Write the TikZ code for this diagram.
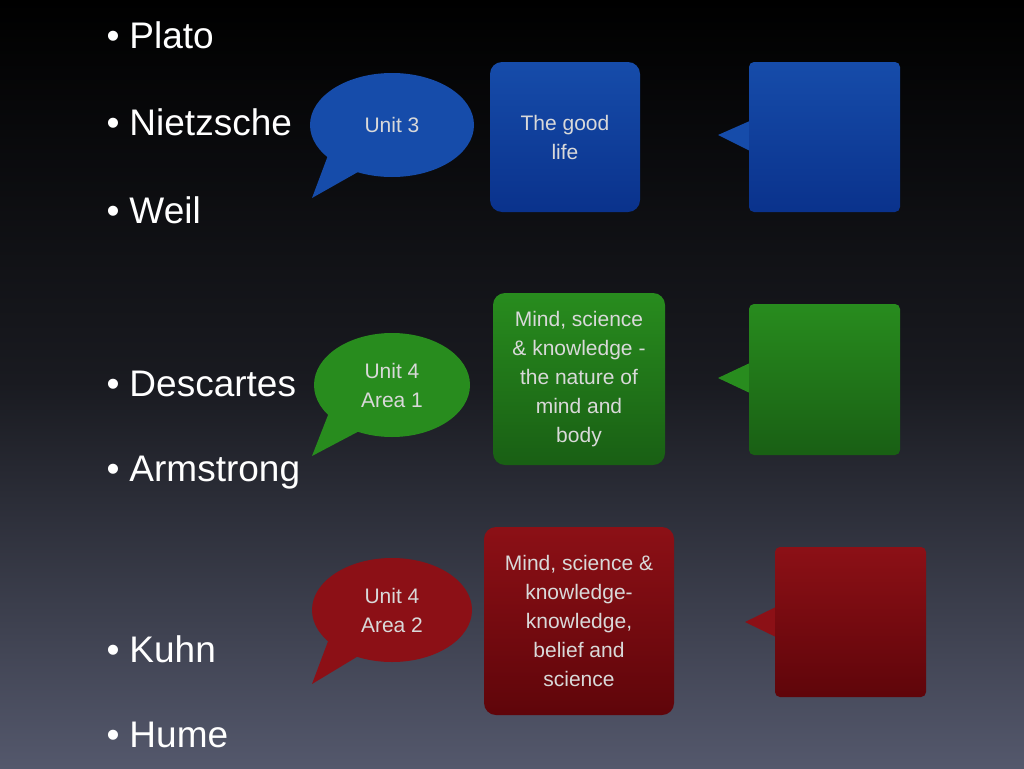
\documentclass[tikz,border=0pt]{standalone}
\usepackage{fontspec}
\setmainfont{Liberation Sans}
\usetikzlibrary{shapes.geometric, positioning}
\definecolor{bgbot}{RGB}{84,88,108}
\definecolor{ublue}{RGB}{22,76,170}
\definecolor{dblue}{RGB}{10,50,140}
\definecolor{ugreen}{RGB}{40,140,30}
\definecolor{dgreen}{RGB}{25,95,20}
\definecolor{ured}{RGB}{140,16,22}
\definecolor{dred}{RGB}{95,5,10}
\tikzset{
  bullet/.style={anchor=west, text=white, font=\fontsize{37}{44}\selectfont},
  bubble/.style={ellipse, minimum width=#1, minimum height=104pt, inner sep=0pt, text=white!85!black, align=center, font=\fontsize{21}{29}\selectfont},
  topicbox/.style={rectangle, rounded corners=12pt, inner sep=0pt, text=white!85!black, align=center, font=\fontsize{21}{29}\selectfont},
  notebox/.style={rectangle, rounded corners=5pt, inner sep=0pt}
}
\begin{document}
\begin{tikzpicture}[x=1pt,y=-1pt]
  \shade[top color=black, bottom color=bgbot, middle color=black!70!bgbot] (0,0) rectangle (1024,768);
  \useasboundingbox (0,0) rectangle (1024,768);
  % bullet list
  \foreach \name/\yy in {Plato/35, Nietzsche/122, Weil/210, Descartes/384, Armstrong/473, Kuhn/649, Hume/735}
    \node[bullet] (b\name) at (103,\yy) {\textbullet\hspace{10pt}\name};
  % speech bubbles
  \fill[ublue] (330,150) -- (312,198) -- (365,168) -- cycle;
  \node[bubble=164pt, fill=ublue] (u3) at (392,125) {Unit 3};
  \fill[ugreen] (330,410) -- (312,456) -- (365,428) -- cycle;
  \node[bubble=156pt, fill=ugreen] (u4a) at (392,385) {Unit 4\\Area 1};
  \fill[ured] (330,636) -- (312,684) -- (365,652) -- cycle;
  \node[bubble=160pt, fill=ured] (u4b) at (392,610) {Unit 4\\Area 2};
  % topic boxes
  \node[topicbox, minimum width=150pt, minimum height=150pt, top color=ublue, bottom color=dblue] (good) at (565,137) {The good\\life};
  \node[topicbox, minimum width=172pt, minimum height=172pt, top color=ugreen, bottom color=dgreen] (mind) at (579,379) {Mind, science\\\& knowledge -\\the nature of\\mind and\\body};
  \node[topicbox, minimum width=190pt, minimum height=188pt, top color=ured, bottom color=dred] (know) at (579,621) {Mind, science \&\\knowledge-\\knowledge,\\belief and\\science};
  % note boxes
  \fill[ublue] (752,120) -- (718,135) -- (752,152) -- cycle;
  \node[notebox, minimum width=151pt, minimum height=150pt, top color=ublue, bottom color=dblue] (nblue) at (824.5,137) {};
  \fill[ugreen] (752,362) -- (718,378) -- (752,394) -- cycle;
  \node[notebox, minimum width=151pt, minimum height=151pt, top color=ugreen, bottom color=dgreen] (ngreen) at (824.5,379.5) {};
  \fill[ured] (778,606) -- (745,622) -- (778,638) -- cycle;
  \node[notebox, minimum width=151pt, minimum height=150pt, top color=ured, bottom color=dred] (nred) at (850.5,622) {};
\end{tikzpicture}
\end{document}
